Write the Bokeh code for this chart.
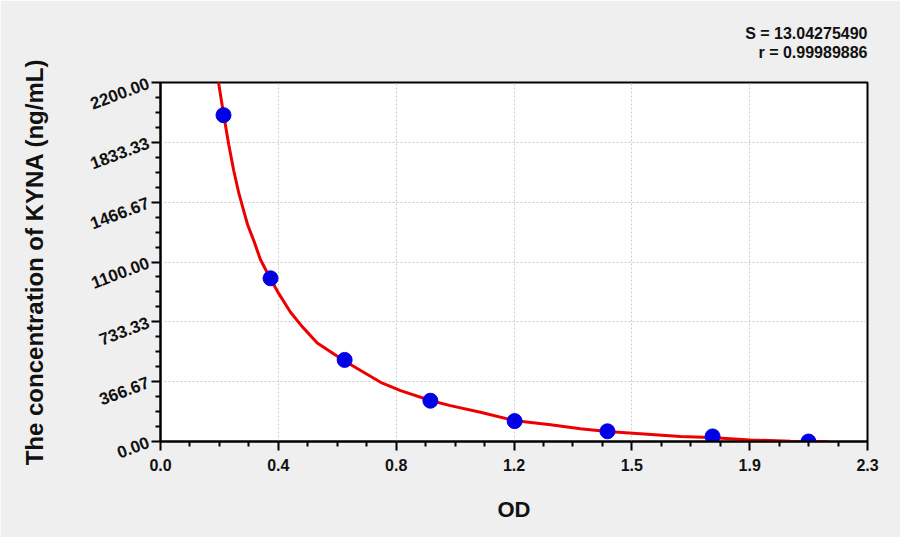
from bokeh.plotting import figure
from bokeh.models import FixedTicker, Range1d, Title
from bokeh.embed import file_html
from bokeh.resources import INLINE

# standard points
od_points = [0.205, 0.358, 0.599, 0.878, 1.152, 1.454, 1.796, 2.108]
conc_points = [2000, 1000, 500, 250, 125, 62.5, 31.25, 0]

# fitted curve
curve_od = [0.1845, 0.206, 0.222, 0.238, 0.255, 0.271, 0.284, 0.304, 0.325, 0.358,
            0.385, 0.423, 0.461, 0.510, 0.596, 0.716, 0.781, 0.878, 0.943, 1.041,
            1.149, 1.269, 1.366, 1.453, 1.692, 1.789, 1.919, 2.05, 2.170]
curve_conc = [2251, 1996, 1820, 1662, 1520, 1412, 1325, 1228, 1115, 996,
              906, 792, 704, 604, 496, 363, 312, 251, 220, 179,
              129, 102, 78, 61, 31, 24, 9, 2, 0]

x_ticks = [0.0, 2.3 / 6, 2 * 2.3 / 6, 3 * 2.3 / 6, 4 * 2.3 / 6, 5 * 2.3 / 6, 2.3]
x_tick_labels = ["0.0", "0.4", "0.8", "1.2", "1.5", "1.9", "2.3"]
y_ticks = [0.0, 366.67, 733.33, 1100.0, 1466.67, 1833.33, 2200.0]
y_tick_labels = ["0.00", "366.67", "733.33", "1100.00", "1466.67", "1833.33", "2200.00"]

stat_lines = ["S = 13.04275490", "r = 0.99989886"]

FONT = "Liberation Sans"
BG = "#efefef"
INK = "#111111"

W, H = 900, 537
p = figure(width=W, height=H, output_backend="svg", toolbar_location=None,
           x_range=Range1d(0, 2.3), y_range=Range1d(0, 2200),
           min_border_left=160, min_border_right=33, min_border_top=82, min_border_bottom=96)
p.border_fill_color = BG
p.background_fill_color = "white"
p.outline_line_color = "black"
p.outline_line_width = 2

def minor(ticks, n):
    out = []
    for a, b in zip(ticks[:-1], ticks[1:]):
        for i in range(1, n + 1):
            out.append(a + (b - a) * i / (n + 1))
    return out

p.xaxis.ticker = FixedTicker(ticks=x_ticks, minor_ticks=minor(x_ticks, 3))
p.yaxis.ticker = FixedTicker(ticks=y_ticks, minor_ticks=minor(y_ticks, 3))
p.xaxis.major_label_overrides = {t: l for t, l in zip(x_ticks, x_tick_labels)}
p.yaxis.major_label_overrides = {t: l for t, l in zip(y_ticks, y_tick_labels)}

for ax in (p.xaxis, p.yaxis):
    ax.axis_line_color = "black"
    ax.axis_line_width = 2
    ax.major_tick_line_color = "black"
    ax.major_tick_line_width = 2
    ax.minor_tick_line_color = "black"
    ax.minor_tick_line_width = 2
    ax.major_tick_out = 9
    ax.major_tick_in = 0
    ax.minor_tick_out = 5
    ax.minor_tick_in = 0
    ax.major_label_text_font = FONT
    ax.major_label_text_font_style = "bold"
    ax.major_label_text_font_size = "16px"
    ax.major_label_text_color = INK
    ax.axis_label_text_font = FONT
    ax.axis_label_text_font_style = "bold"
    ax.axis_label_text_color = INK

p.yaxis.major_label_text_font_size = "17px"
p.xaxis.axis_label_text_font_size = "22px"
p.yaxis.axis_label_text_font_size = "24px"
p.yaxis.major_label_orientation = 0.36
p.xaxis.major_label_standoff = 8
p.yaxis.major_label_standoff = 3
p.xaxis.axis_label = "OD"
p.xaxis.axis_label_standoff = 23
p.yaxis.axis_label = "The concentration of KYNA (ng/mL)"
p.yaxis.axis_label_standoff = 36

for g in (p.xgrid, p.ygrid):
    g.grid_line_color = "#cccccc"
    g.grid_line_dash = "2 2"
    g.grid_line_width = 1

p.line(curve_od, curve_conc, line_color="#ee0000", line_width=3)
p.scatter(od_points, conc_points, size=15, fill_color="#0000e6", line_color="#0000e6")

# spacer between the frame and the statistics lines
p.add_layout(Title(text=" ", text_font=FONT, text_font_size="18px", standoff=0), "above")
p.add_layout(Title(text=stat_lines[1], align="right", text_font=FONT, text_font_style="bold",
                   text_font_size="16px", text_color=INK, text_line_height=1.0, standoff=0), "above")
p.add_layout(Title(text=stat_lines[0], align="right", text_font=FONT, text_font_style="bold",
                   text_font_size="16px", text_color=INK, text_line_height=1.0, standoff=0), "above")

open("out.html", "w").write(file_html(p, INLINE))
